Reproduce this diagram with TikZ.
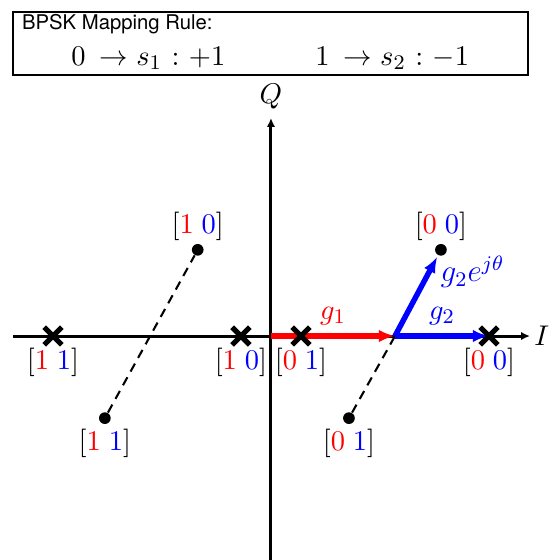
\documentclass[tikz,border=0pt]{standalone}
\usepackage{fontspec}
\newfontfamily\rulefont{TeX Gyre Heros}
\usetikzlibrary{arrows.meta,shapes.misc,positioning,backgrounds}
\newcommand{\bitpair}[2]{$[\textcolor{red}{#1}\;\textcolor{blue}{#2}]$}

\begin{document}
\begin{tikzpicture}[
    font=\fontsize{10.95}{13.6}\selectfont,
    axis/.style={line width=1.15pt, -{Latex[length=3.4pt,width=3.2pt]}},
    vec/.style={line width=2.1pt, -{Latex[length=6.2pt,width=4.8pt]}},
    guide/.style={line width=0.8pt, dash pattern=on 3.5pt off 2.5pt},
    xsym/.style={draw, cross out, line width=2pt, minimum size=4.8pt, inner sep=0pt},
    rxdot/.style={circle, fill, inner sep=0pt, minimum size=4.5pt},
    bits/.style={inner sep=1.2pt},
  ]
  \useasboundingbox (-3.662,-3.027) rectangle (3.851,4.541);

  % mapping rule
  \node[draw, line width=0.8pt, minimum width=6.959cm, minimum height=0.851cm] (rulebox) at (-0.007,3.953) {};
  \node[font={\rulefont\fontsize{7.8}{9}\selectfont}, anchor=base west, inner sep=0pt] (ruletitle) at (-3.37,4.149) {BPSK Mapping Rule:};
  \node[anchor=base west, inner sep=0pt] (rule0) at (-2.703,3.662) {$0\mskip4mu\rightarrow s_1\mskip1mu:\mskip1mu+1$};
  \node[anchor=base west, inner sep=0pt] (rule1) at (0.592,3.662) {$1\mskip4mu\rightarrow s_2\mskip1mu:\mskip1mu-1$};

  % axis ends
  \coordinate (Istart) at (-3.486,0);
  \coordinate (Iend) at (3.5,0);
  \coordinate (Qstart) at (0,-3.027);
  \coordinate (Qend) at (0,2.946);
  \coordinate (O) at (0,0);
  \coordinate (g1) at (1.676,0);
  \node[right, inner sep=1.5pt] (Ilab) at (Iend) {$I$};
  \node[above] (Qlab) at (Qend) {$Q$};

  % received points without phase
  \node[xsym] (x11) at (-2.946,0) {};
  \node[xsym] (x10) at (-0.406,0) {};
  \node[xsym] (x01) at (0.406,0) {};
  \node[xsym] (x00) at (2.946,0) {};
  \node[bits, below=0pt of x11] (x11lab) {\bitpair{1}{1}};
  \node[bits, below=0pt of x10] (x10lab) {\bitpair{1}{0}};
  \node[bits, below=0pt of x01] (x01lab) {\bitpair{0}{1}};
  \node[bits, below=0pt of x00] (x00lab) {\bitpair{0}{0}};

  % received points with phase
  \node[rxdot] (d00) at (2.297,1.165) {};
  \node[rxdot] (d01) at (1.054,-1.11) {};
  \node[rxdot] (d10) at (-0.99,1.165) {};
  \node[rxdot] (d11) at (-2.245,-1.11) {};
  \node[bits, above=-0.5pt of d00] (d00lab) {\bitpair{0}{0}};
  \node[bits, below=0.5pt of d01] (d01lab) {\bitpair{0}{1}};
  \node[bits, above=-0.5pt of d10] (d10lab) {\bitpair{1}{0}};
  \node[bits, below=0.5pt of d11] (d11lab) {\bitpair{1}{1}};

  \begin{scope}[on background layer]
    \draw[axis] (Istart) -- (Iend);
    \draw[axis] (Qstart) -- (Qend);
    \draw[guide] (d11) -- (d10);
    \draw[guide] (d01) -- (g1);
    \draw[vec, red] (O) -- (g1) node[midway, above] (g1lab) {$g_1$};
    \draw[vec, blue] (g1) -- (x00.center) node[midway, above] (g2lab) {$g_2$};
    \draw[vec, blue, shorten >=0.5pt] (g1) -- (d00) node[pos=0.8, right, font=\large] (g2rlab) {$g_2e^{j\theta}$};
  \end{scope}
\end{tikzpicture}
\end{document}
